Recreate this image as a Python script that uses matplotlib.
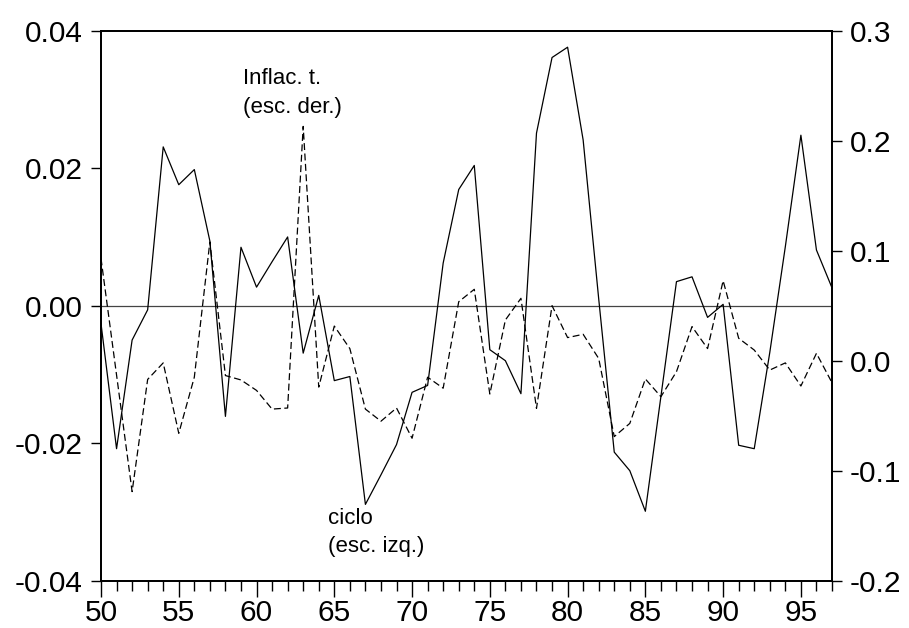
""" Ciclo vs inflacion, dos escalas """

import numpy as np
import matplotlib.pyplot as plt
from matplotlib.ticker import MultipleLocator, FixedLocator

plt.rcParams['font.family'] = ['Liberation Sans', 'DejaVu Sans']
plt.rcParams['lines.scale_dashes'] = False

years = np.arange(50, 98)

# ciclo, escala izquierda
ciclo = [-0.0026, -0.0208, -0.0050, -0.0006, 0.0231, 0.0176, 0.0198, 0.0094,
         -0.0161, 0.0085, 0.0027, 0.0064, 0.0100, -0.0069, 0.0015, -0.0109,
         -0.0103, -0.0289, -0.0246, -0.0202, -0.0126, -0.0116, 0.0062, 0.0169,
         0.0204, -0.0064, -0.0080, -0.0128, 0.0251, 0.0361, 0.0376, 0.0241,
         0.0010, -0.0213, -0.0240, -0.0299, -0.0132, 0.0035, 0.0042, -0.0017,
         0.0002, -0.0203, -0.0208, -0.0068, 0.0086, 0.0248, 0.0081, 0.0026]

# inflacion, escala derecha
inflac = [0.093, -0.013, -0.119, -0.017, -0.002, -0.066, -0.015, 0.108,
          -0.0135, -0.0175, -0.027, -0.044, -0.043, 0.213, -0.024, 0.0315,
          0.011, -0.044, -0.055, -0.043, -0.0705, -0.015, -0.025, 0.0536,
          0.0649, -0.0303, 0.037, 0.0567, -0.0433, 0.050, 0.021, 0.024,
          0.002, -0.069, -0.057, -0.0166, -0.0327, -0.010, 0.031, 0.011,
          0.0727, 0.0204, 0.0097, -0.0085, -0.002, -0.023, 0.0067, -0.020]

left_ticks = [-0.04, -0.02, 0.0, 0.02, 0.04]
left_labels = ['-0.04', '-0.02', '0.00', '0.02', '0.04']
right_ticks = [-0.2, -0.1, 0.0, 0.1, 0.2, 0.3]
right_labels = ['-0.2', '-0.1', '0.0', '0.1', '0.2', '0.3']
x_ticks = [50, 55, 60, 65, 70, 75, 80, 85, 90, 95]


def main():
    fig = plt.figure(figsize=(9.09, 6.28), dpi=100)
    ax = fig.add_axes([101 / 909, 1 - 580.7 / 628, 731 / 909, 550 / 628])
    ax2 = ax.twinx()

    ax.axhline(0, color='#444444', lw=0.9, zorder=1)
    ax.plot(years, ciclo, color='black', lw=0.9)
    ax2.plot(years, inflac, color='black', lw=0.9, ls=(0, (5, 2.5)))

    ax.set_xlim(50, 97)
    ax.set_ylim(-0.04, 0.04)
    ax2.set_ylim(-0.2, 0.3)

    ax.xaxis.set_major_locator(FixedLocator(x_ticks))
    ax.xaxis.set_minor_locator(MultipleLocator(1))
    ax.set_yticks(left_ticks)
    ax.set_yticklabels(left_labels)
    ax2.set_yticks(right_ticks)
    ax2.set_yticklabels(right_labels)

    ax.tick_params(axis='x', which='major', length=11.5, width=1, pad=2,
                   labelsize=21.5)
    ax.tick_params(axis='x', which='minor', length=7, width=1)
    ax.tick_params(axis='y', length=7, width=1, pad=6, labelsize=21.5)
    ax2.tick_params(axis='y', length=7, width=1, pad=6, labelsize=21.5)

    for a in (ax, ax2):
        for s in a.spines.values():
            s.set_linewidth(1.3)

    # va='baseline' sits on the last line here
    ax.text(59.15, 0.0281, 'Inflac. t.\n(esc. der.)', fontsize=16,
            ha='left', va='baseline', linespacing=1.45)
    ax.text(64.61, -0.0358, 'ciclo\n(esc. izq.)', fontsize=16,
            ha='left', va='baseline', linespacing=1.45)

    fig.savefig('out.png', dpi=100)


if __name__ == '__main__':
    main()
